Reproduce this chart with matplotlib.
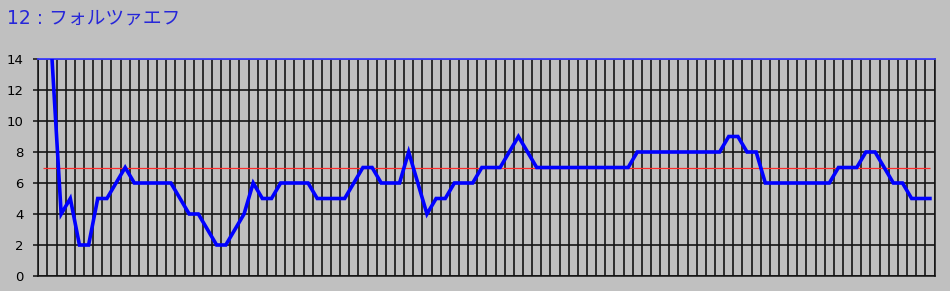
import numpy as np
import matplotlib.pyplot as plt

title = "12 : フォルツァエフ"

# one value per race, the first is off the top of the scale
positions = [18, 14, 4, 5, 2, 2, 5, 5, 6, 7,
             6, 6, 6, 6, 6, 5, 4, 4, 3, 2,
             2, 3, 4, 6, 5, 5, 6, 6, 6, 6,
             5, 5, 5, 5, 6, 7, 7, 6, 6, 6,
             8, 6, 4, 5, 5, 6, 6, 6, 7, 7,
             7, 8, 9, 8, 7, 7, 7, 7, 7, 7,
             7, 7, 7, 7, 7, 8, 8, 8, 8, 8,
             8, 8, 8, 8, 8, 9, 9, 8, 8, 6,
             6, 6, 6, 6, 6, 6, 6, 7, 7, 7,
             8, 8, 7, 6, 6, 5, 5, 5]
average = 7
y_ticks = [0, 2, 4, 6, 8, 10, 12, 14]

bg = "#c0c0c0"
plt.rcParams["font.family"] = ["DejaVu Sans", "Noto Sans CJK JP"]

fig = plt.figure(figsize=(9.5, 2.91), dpi=100, facecolor=bg)
ax = fig.add_axes([38.3 / 950, 15 / 291, (934.5 - 38.3) / 950, 217 / 291])
ax.set_facecolor(bg)

x = np.arange(len(positions))
ax.plot(x, positions, color="#0000ff", linewidth=2.6, zorder=4,
        solid_joinstyle="miter")
ax.hlines(average, x[0], x[-1], color="#ff2a2a", linewidth=0.9, zorder=3)

ax.set_xlim(-0.5, len(positions) - 0.5)
ax.set_ylim(0, 14)
ax.set_xticks(np.arange(len(positions) + 1) - 0.5)
ax.set_xticklabels([])
ax.set_yticks(y_ticks)
ax.set_yticklabels([str(t) for t in y_ticks], fontsize=9.5)
ax.tick_params(axis="x", length=0)
ax.tick_params(axis="y", length=3.6, width=1.1, color="#111111", pad=7)
ax.grid(True, color="#151515", linewidth=1.2, zorder=1)
ax.set_axisbelow(True)

for side in ["left", "bottom", "right"]:
    ax.spines[side].set_color("#111111")
    ax.spines[side].set_linewidth(1.1)
ax.spines["top"].set_color("#3a3aff")
ax.spines["top"].set_linewidth(1.3)

fig.text(7 / 950, 1 - 18.5 / 291, title, color="#2626d9", fontsize=13.5,
         ha="left", va="center")

fig.savefig("out.png", dpi=100, facecolor=bg)
